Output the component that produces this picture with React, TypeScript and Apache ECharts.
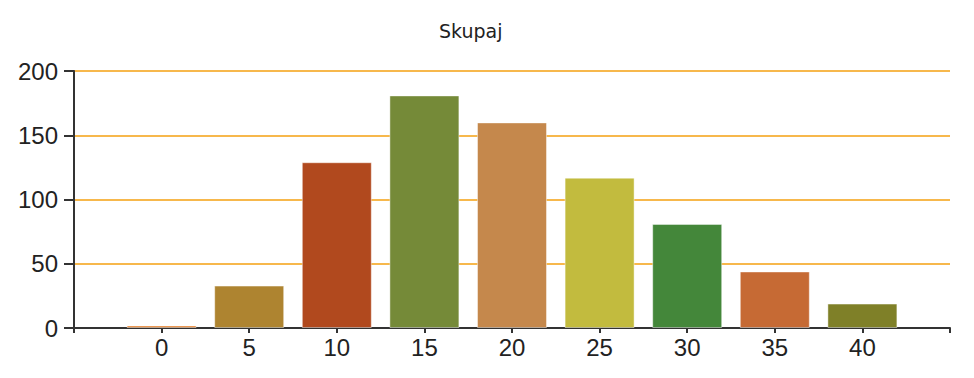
import React, { useEffect, useRef } from "react";
import * as echarts from "echarts";

const titleText = "Skupaj";
const categories = [0, 5, 10, 15, 20, 25, 30, 35, 40];
const values = [2, 33, 129, 181, 160, 117, 81, 44, 19];
const barColors = [
  "#E8802A",
  "#AE8430",
  "#B1491E",
  "#758A38",
  "#C5884C",
  "#C2BB3E",
  "#44873A",
  "#C66A34",
  "#7F8028",
];

export default function App() {
  const ref = useRef<HTMLDivElement>(null);
  useEffect(() => {
    if (!ref.current) return;
    const chart = echarts.init(ref.current, null, { renderer: "svg" });
    const data = categories.map((c, i) => ({
      value: [c, values[i]],
      itemStyle: { color: barColors[i] },
    }));
    chart.setOption({
      animation: false,
      backgroundColor: "#ffffff",
      title: {
        text: titleText,
        left: 434,
        top: 16,
        textStyle: {
          fontFamily: "DejaVu Sans",
          fontSize: 19,
          fontWeight: "normal",
          color: "#222222",
        },
      },
      grid: { left: 74, right: 24, top: 71, bottom: 50, containLabel: false },
      xAxis: {
        type: "value",
        min: -5,
        max: 45,
        interval: 5,
        splitLine: { show: false },
        axisLine: { show: true, onZero: false, lineStyle: { color: "#333333", width: 2 } },
        axisTick: { show: true, length: 5, lineStyle: { color: "#333333", width: 2 } },
        axisLabel: {
          margin: 7,
          fontFamily: "Liberation Sans",
          fontSize: 24,
          color: "#222222",
          formatter: (v: number) => (v < 0 || v > 40 ? "" : String(v)),
        },
      },
      yAxis: {
        type: "value",
        min: 0,
        max: 200,
        interval: 50,
        axisLine: { show: true, onZero: false, lineStyle: { color: "#333333", width: 2 } },
        axisTick: { show: true, length: 10, lineStyle: { color: "#333333", width: 2 } },
        splitLine: { show: true, lineStyle: { color: "#F7B84C", width: 2 } },
        axisLabel: {
          margin: 16,
          fontFamily: "Liberation Sans",
          fontSize: 24,
          color: "#222222",
        },
      },
      series: [
        {
          type: "bar",
          data,
          barWidth: 70,
          itemStyle: { borderColor: "rgba(255,255,255,0.45)", borderWidth: 1 },
        },
      ],
    });
    return () => chart.dispose();
  }, []);
  return (
    <div
      ref={ref}
      style={{ position: "fixed", left: 0, top: 0, width: 974, height: 378 }}
    />
  );
}
